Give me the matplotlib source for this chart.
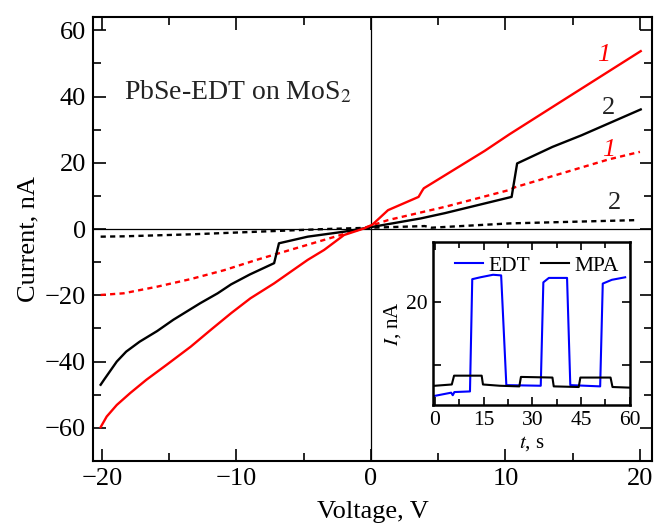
import numpy as np
import matplotlib
matplotlib.use("Agg")
import matplotlib.pyplot as plt
from matplotlib.ticker import MultipleLocator

plt.rcParams['font.family'] = ['Liberation Serif', 'DejaVu Serif']
plt.rcParams['mathtext.fontset'] = 'stix'

# curve 1 (red) and 2 (black), solid and dashed
v_r1 = [-20.1, -19.65, -18.9, -17.9, -16.7, -15.2, -13.4, -11.9, -10.4, -8.96, -7.2, -5.97, -4.7, -3.48, -2.0, -0.5,
        0.1, 1.27, 3.54, 3.8, 3.93, 8.46, 10.3, 14.3, 20.06]
i_r1 = [-59.8, -56.6, -53.1, -49.5, -45.5, -41, -35.5, -30.4, -25.4, -20.9, -16.4, -12.9, -9.3, -6.3, -1.8, 0.2,
        1.3, 5.7, 9.7, 11.5, 12.3, 23.6, 28.6, 38.9, 53.7]

v_k2 = [-20.1, -19.85, -18.9, -18.2, -17.2, -15.9, -14.7, -12.7, -11.4, -10.4, -9.0, -7.2, -6.84, -4.7, -2.0, -0.25,
        3.7, 5.5, 10.46, 10.87, 13.5, 15.66, 20.06]
i_k2 = [-47, -45.5, -40, -37, -34, -30.8, -27.4, -22.4, -19.4, -16.7, -13.7, -10.3, -4.3, -2.3, -0.8, 0.4,
        3.2, 4.8, 9.7, 19.8, 24.8, 28.3, 36.1]

v_r1d = [-20.1, -18.4, -15.9, -13.4, -10.9, -8.5, -6.0, -3.5, -1.0, 0, 1.27, 5.5, 10.3, 10.7, 17.66, 20.0]
i_r1d = [-19.9, -19.4, -17.4, -15.1, -12.4, -9.3, -6.3, -3.3, -0.3, 1.0, 2.7, 6.7, 11.8, 12.6, 21, 23.3]

v_k2d = [-20.1, -18.4, -13.4, -8.4, -3.4, 0, 4.0, 4.5, 10.3, 19.8]
i_k2d = [-2.3, -2.2, -1.6, -0.8, 0, 0.4, 0.9, 0.4, 1.7, 2.7]

# inset: photoresponse vs time
t_edt = [0, 3, 5, 5.5, 6, 10.8, 11.5, 14, 17.9, 20.4, 22, 32.6, 33.4, 35.1, 40.7, 41.7, 50.9, 51.7, 54.5, 58.6]
i_edt = [5.1, 5.4, 5.6, 5.2, 5.7, 5.8, 23.6, 23.9, 24.3, 24.2, 6.8, 6.7, 23.1, 23.8, 23.8, 6.8, 6.6, 22.9, 23.5, 23.9]
t_mpa = [0, 5.2, 5.9, 14.4, 14.8, 20, 26, 26.5, 36.2, 36.6, 44.3, 44.8, 54.1, 54.7, 60]
i_mpa = [6.7, 6.9, 8.3, 8.3, 6.9, 6.7, 6.6, 8.1, 8.0, 6.6, 6.5, 8.0, 8.0, 6.5, 6.4]

fs = 19

fig = plt.figure(figsize=(6.58, 5.25), dpi=100)
ax = fig.add_axes([0.1413, 0.122, 0.8496, 0.8456])

ax.axvline(0, color='black', lw=0.9)
ax.axhline(0, color='black', lw=0.9)
dash = (0, (2.2, 1.8))
ax.plot(v_k2d, i_k2d, color='black', lw=1.7, ls=dash)
ax.plot(v_r1d, i_r1d, color='red', lw=1.7, ls=dash)
ax.plot(v_k2, i_k2, color='black', lw=1.7)
ax.plot(v_r1, i_r1, color='red', lw=1.7)

ax.set_xlim(-20.67, 20.9)
ax.set_ylim(-70, 64)
ax.xaxis.set_major_locator(MultipleLocator(10))
ax.xaxis.set_minor_locator(MultipleLocator(5))
ax.yaxis.set_major_locator(MultipleLocator(20))
ax.yaxis.set_minor_locator(MultipleLocator(10))
ax.tick_params(which='both', direction='in', top=True, right=True, labelsize=fs, width=1.2)
ax.tick_params(which='major', length=9, pad=5)
ax.tick_params(which='minor', length=6)
for s in ax.spines.values():
    s.set_linewidth(1.5)
ax.set_xlabel('Voltage, V', fontsize=fs, labelpad=8)
ax.set_ylabel('Current, nA', fontsize=fs, labelpad=4)

ax.text(-18.4, 41.3, 'PbSe-EDT on MoS$_2$', fontsize=20, va='center', color='#222222')
ax.text(17.3, 52.5, '1', color='red', style='italic', fontsize=fs, ha='center', va='center')
ax.text(17.7, 36.5, '2', color='#222222', fontsize=fs, ha='center', va='center')
ax.text(17.7, 23.8, '1', color='red', style='italic', fontsize=fs, ha='center', va='center')
ax.text(18.1, 7.8, '2', color='#222222', fontsize=fs, ha='center', va='center')

# inset
ins = fig.add_axes([0.658, 0.2286, 0.299, 0.3105])
ins.plot(t_edt, i_edt, color='blue', lw=1.5, label='EDT')
ins.plot(t_mpa, i_mpa, color='black', lw=1.5, label='MPA')
ins.set_xlim(-0.6, 60)
ins.set_ylim(3.65, 29.5)
ins.xaxis.set_major_locator(MultipleLocator(15))
ins.xaxis.set_minor_locator(MultipleLocator(7.5))
ins.set_yticks([10, 20])
ins.set_yticklabels(['', '20'])
ins.tick_params(which='both', direction='in', top=True, right=True, labelsize=15.5, width=1.2)
ins.tick_params(which='major', length=6, pad=4)
ins.tick_params(which='minor', length=4)
for s in ins.spines.values():
    s.set_linewidth(1.8)
ins.set_xlabel('$t$, s', fontsize=15, labelpad=3)
ins.set_ylabel('$I$, nA', fontsize=15, labelpad=2)
ins.legend(loc='upper center', ncol=2, frameon=False, fontsize=15.5, handlelength=1.3,
           columnspacing=0.5, handletextpad=0.25, borderaxespad=0.2, borderpad=0.2,
           bbox_to_anchor=(0.53, 0.97))

fig.savefig('out.png', dpi=100)
